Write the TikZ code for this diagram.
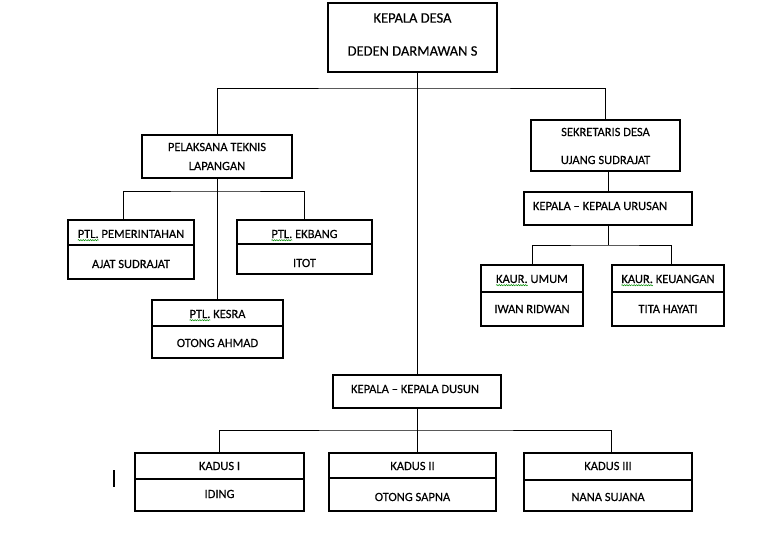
\documentclass[tikz,border=0pt]{standalone}
\usepackage{fontspec}
\setmainfont{Carlito}[FakeBold=0.25]
\usetikzlibrary{decorations.pathmorphing}
\newcommand\wv[1]{\tikz[baseline=(w.base),x=1cm,y=1cm]{\node[inner sep=0pt,outer sep=0pt](w){#1};\draw[overlay,green!55!black,line width=0.5pt,decorate,decoration={snake,amplitude=0.6pt,segment length=2.4pt}]([yshift=-2.2pt]w.base west)--([yshift=-2.2pt]w.base east);}}
\begin{document}
\begin{tikzpicture}[x=1pt,y=-1pt, line width=0.9pt,
 box/.style={draw, rectangle, inner sep=0pt, outer sep=0pt, line width=1.1pt},
 txt/.style={inner sep=0pt, font=\fontsize{12.5}{14}\selectfont},
 bigtxt/.style={inner sep=0pt, font=\fontsize{14.5}{17}\selectfont}]
\useasboundingbox (0,0) rectangle (768,545);
% boxes
\node[box, minimum width=169pt, minimum height=69pt] (top) at (412.5,37.5) {};
\node[box, minimum width=150pt, minimum height=43pt] (pel) at (217,156.5) {};
\node[box, minimum width=149pt, minimum height=51pt] (sek) at (605.5,145.5) {};
\node[box, minimum width=126pt, minimum height=59pt] (pem) at (131,249.5) {};
\node[box, minimum width=135pt, minimum height=54pt] (ekb) at (304.5,247) {};
\node[box, minimum width=131pt, minimum height=58pt] (kes) at (217.5,329) {};
\node[box, minimum width=168pt, minimum height=33pt] (uru) at (608,208.5) {};
\node[box, minimum width=102pt, minimum height=61pt] (umu) at (532,295.5) {};
\node[box, minimum width=112pt, minimum height=61pt] (keu) at (668,295.5) {};
\node[box, minimum width=168pt, minimum height=33pt] (dus) at (417,391.5) {};
\node[box, minimum width=169pt, minimum height=58pt] (k1) at (219.5,482) {};
\node[box, minimum width=167pt, minimum height=58pt] (k2) at (412.5,482) {};
\node[box, minimum width=168pt, minimum height=58pt] (k3) at (608,482) {};
% dividers
\draw[line width=1.1pt] ([yshift=-25pt]pem.north west) -- ([yshift=-25pt]pem.north east);
\draw[line width=1.1pt] ([yshift=-24pt]ekb.north west) -- ([yshift=-24pt]ekb.north east);
\draw[line width=1.1pt] ([yshift=-26pt]kes.north west) -- ([yshift=-26pt]kes.north east);
\draw[line width=1.1pt] ([yshift=-27pt]umu.north west) -- ([yshift=-27pt]umu.north east);
\draw[line width=1.1pt] ([yshift=-27pt]keu.north west) -- ([yshift=-27pt]keu.north east);
\draw[line width=1.1pt] ([yshift=-26pt]k1.north west) -- ([yshift=-26pt]k1.north east);
\draw[line width=1.1pt] ([yshift=-25pt]k2.north west) -- ([yshift=-25pt]k2.north east);
\draw[line width=1.1pt] ([yshift=-27pt]k3.north west) -- ([yshift=-27pt]k3.north east);
% texts
\node[bigtxt] (t1) at (412.5,18) {KEPALA DESA};
\node[bigtxt] (t2) at (412.5,51) {DEDEN DARMAWAN S};
\node[txt] (p1) at (217,147) {PELAKSANA TEKNIS};
\node[txt] (p2) at (217,166) {LAPANGAN};
\node[txt] (s1) at (605.5,132) {SEKRETARIS DESA};
\node[txt] (s2) at (605.5,160) {UJANG SUDRAJAT};
\node[txt] (pm1) at (131,234) {\wv{PTL.} PEMERINTAHAN};
\node[txt] (pm2) at (131,264) {AJAT SUDRAJAT};
\node[txt] (e1) at (304.5,234) {\wv{PTL.} EKBANG};
\node[txt] (e2) at (304.5,263) {ITOT};
\node[txt] (ks1) at (217.5,314) {\wv{PTL.} KESRA};
\node[txt] (ks2) at (217.5,343) {OTONG AHMAD};
\node[txt] (u1) at (600,206) {KEPALA -- KEPALA URUSAN};
\node[txt] (um1) at (532,279) {\wv{KAUR.} UMUM};
\node[txt] (um2) at (532,309) {IWAN RIDWAN};
\node[txt] (ku1) at (668,279) {\wv{KAUR.} KEUANGAN};
\node[txt] (ku2) at (668,309) {TITA HAYATI};
\node[txt] (d1) at (415,389) {KEPALA -- KEPALA DUSUN};
\node[txt] (a1) at (219.5,466) {KADUS I};
\node[txt] (a2) at (219.5,494) {IDING};
\node[txt] (b1t) at (412.5,466) {KADUS II};
\node[txt] (b2t) at (412.5,497) {OTONG SAPNA};
\node[txt] (c1) at (608,466) {KADUS III};
\node[txt] (c2) at (608,497) {NANA SUJANA};
% connectors
\coordinate (b1) at (417,88);
\coordinate (b2) at (217,191);
\coordinate (pemc) at (123,220);
\coordinate (b3) at (608,245);
\coordinate (b4) at (417,430);
\draw (top.south -| dus.north) -- (dus.north);
\draw (pel.north) |- (b1) -| (sek.north);
\draw (pel.south) -- (pel.south |- kes.north);
\draw (pemc) |- (b2) -| (ekb.north);
\draw (sek.south -| uru.north) -- (uru.north);
\draw (uru.south) -- (b3);
\draw (umu.north) |- (b3) -| ([xshift=3pt]keu.north);
\draw (dus.south) -- (dus.south |- k2.north);
\draw (k1.north) |- (b4) -| ([xshift=3pt]k3.north);
% text cursor mark
\draw[line width=1.3pt] (114,470) -- (114,487);
\end{tikzpicture}
\end{document}
